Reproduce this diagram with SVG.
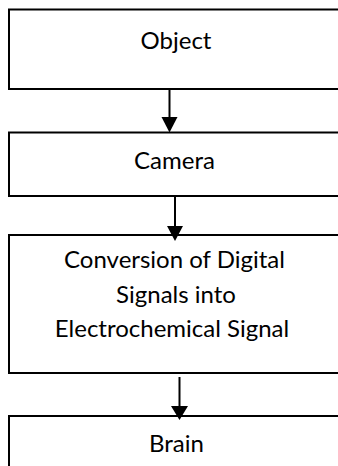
<svg xmlns="http://www.w3.org/2000/svg" width="338" height="466" viewBox="0 0 338 466">
<style>
.box{fill:#fff;stroke:#000;stroke-width:2}
.lbl{font-family:Lato,"Open Sans","Liberation Sans",sans-serif;font-size:24px;fill:#000;text-anchor:middle}
.conn line{stroke:#000;stroke-width:2}
.conn polygon{fill:#000}
</style>
<rect width="338" height="466" fill="#fff"/>
<g id="object"><rect class="box" x="9" y="9.5" width="340" height="79.5"/><text class="lbl" x="176" y="48.5">Object</text></g>
<g id="camera"><rect class="box" x="9" y="132.5" width="340" height="63.5"/><text class="lbl" x="174.5" y="168.5">Camera</text></g>
<g id="conversion"><rect class="box" x="9" y="235" width="340" height="138"/><text class="lbl" x="174.5" y="268">Conversion of Digital</text><text class="lbl" x="176" y="302.5">Signals into</text><text class="lbl" x="172" y="337">Electrochemical Signal</text></g>
<g id="brain"><rect class="box" x="9" y="416" width="340" height="60"/><text class="lbl" x="176.5" y="452">Brain</text></g>
<g class="conn" id="connectors">
<line x1="169.5" y1="89" x2="169.5" y2="118"/><polygon points="161.5,117 177.5,117 169.5,132.5"/>
<line x1="175" y1="196" x2="175" y2="227"/><polygon points="167,226 183,226 175,241"/>
<line x1="179.5" y1="377" x2="179.5" y2="407"/><polygon points="171,406 188,406 179.5,420"/>
</g>
</svg>
